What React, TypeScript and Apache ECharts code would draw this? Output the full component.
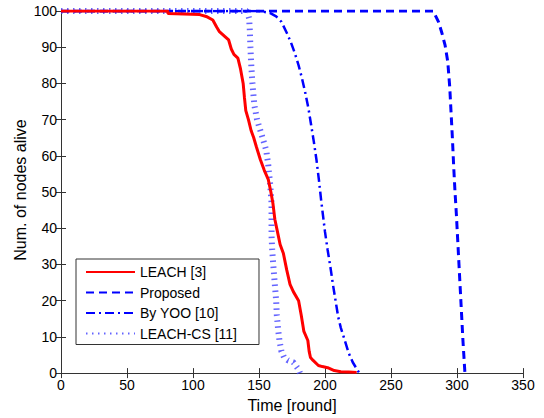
import React, { useEffect, useRef } from "react";
import * as echarts from "echarts";

const seriesNames = ["LEACH [3]", "Proposed", "By YOO [10]", "LEACH-CS [11]"];

const xTicks = [0, 50, 100, 150, 200, 250, 300, 350];

const leachData: number[][] = [
  [0, 100], [81, 100], [81, 99.3], [105, 99], [110, 98.5], [115, 97.5], [118, 95.5], [120, 94.3],
  [124, 93], [127, 92], [129, 89.5], [131, 88], [134, 87], [136, 84], [138, 80], [139, 76],
  [140, 72.5], [142, 70], [144, 67], [146, 65], [148, 62.5], [151, 59], [154, 56], [157, 53.5],
  [159, 50], [160.5, 47], [162, 42.5], [164, 39], [166, 35.5], [168.5, 33], [171, 28.5],
  [173.5, 24.5], [176, 22.5], [180, 20], [182, 16], [184, 11.5], [187, 9], [188, 6], [189, 4.3],
  [191, 3.5], [195, 2.1], [198, 1.8], [202, 1.5], [207, 0.7], [212, 0.4], [218, 0.3], [224, 0.2]
];

const proposedData: number[][] = [
  [0, 100], [282, 100], [286, 97], [288.5, 94], [291, 90.5], [293, 86], [294.5, 79],
  [295.5, 72], [296.5, 65], [297.5, 57], [298.5, 50], [299.5, 44], [300.5, 37], [301.5, 30],
  [302.5, 23], [303.5, 16], [304.5, 9], [305.5, 3], [306, 0]
];

const yooData: number[][] = [
  [0, 100], [150, 100], [158, 99.5], [163, 98.5], [167, 97], [171, 94], [174, 91.5],
  [177, 88.5], [180, 85], [182.5, 81.5], [185, 77.5], [187.5, 73], [189.5, 68.5],
  [191.5, 64], [193.5, 59], [195.5, 53], [197, 48], [198.5, 43.5], [200, 39], [202, 34],
  [204, 29.5], [206, 24.5], [208, 20], [210, 15.5], [212, 12.5], [215, 9], [218, 5.5],
  [221, 3], [224, 1.2], [226, 0]
];

const leachCsData: number[][] = [
  [0, 100], [141, 100], [142.5, 98], [143, 95], [143.5, 90], [144, 86], [145, 80],
  [146.5, 74], [148.5, 70], [151, 67], [153.5, 64], [155.5, 61.5], [157, 57.5], [158.5, 52],
  [159.5, 47], [159.5, 42], [159.5, 38], [160, 34], [161, 29], [162, 24.5], [163, 20],
  [163.5, 16], [164.5, 12], [165.5, 9], [167, 6], [169, 4.3], [172, 3.5], [176, 3],
  [178, 2], [180, 1], [181, 0]
];

const FONT = '"Liberation Sans", Arial, Helvetica, sans-serif';

export default function App() {
  const ref = useRef<HTMLDivElement>(null);
  useEffect(() => {
    if (!ref.current) return;
    const chart = echarts.init(ref.current, undefined, { renderer: "svg" });
    const axisLine = { show: true, lineStyle: { color: "#333", width: 1 } };
    const axisTick = { show: true, inside: true, length: 5, lineStyle: { color: "#333" } };
    chart.setOption({
      animation: false,
      backgroundColor: "#fff",
      textStyle: { fontFamily: FONT },
      grid: { left: 61, right: 21, top: 11, bottom: 42, containLabel: false },
      graphic: [
        {
          type: "text",
          x: 20,
          y: 190,
          rotation: Math.PI / 2,
          style: {
            text: "Num. of nodes alive",
            fontSize: 16,
            fontFamily: FONT,
            fill: "#000",
            align: "center",
            verticalAlign: "middle",
          },
        },
      ],
      legend: {
        orient: "vertical",
        left: 76,
        top: 259,
        data: seriesNames,
        itemWidth: 49,
        itemHeight: 14,
        itemGap: 6.5,
        padding: [6, 22, 4, 9],
        backgroundColor: "#fff",
        borderColor: "#333",
        borderWidth: 1,
        borderRadius: 0,
        itemStyle: { opacity: 0 },
        textStyle: { fontFamily: FONT, fontSize: 14, color: "#000" },
        selectedMode: false,
      },
      xAxis: [
        {
          type: "value",
          min: 0,
          max: 350,
          interval: 50,
          name: "Time [round]",
          nameLocation: "middle",
          nameGap: 22,
          nameTextStyle: { fontSize: 16, color: "#000", fontFamily: FONT },
          axisLine,
          axisTick,
          axisLabel: { color: "#000", fontSize: 14, margin: 5, fontFamily: FONT,
            formatter: (v: number) => (xTicks.includes(v) ? String(v) : "") },
          splitLine: { show: false },
        },
        {
          type: "value",
          position: "top",
          min: 0,
          max: 350,
          interval: 50,
          axisLine,
          axisTick,
          axisLabel: { show: false },
          splitLine: { show: false },
        },
      ],
      yAxis: [
        {
          type: "value",
          min: 0,
          max: 100,
          interval: 10,
          axisLine,
          axisTick,
          axisLabel: { color: "#000", fontSize: 14, margin: 4, fontFamily: FONT },
          splitLine: { show: false },
        },
        {
          type: "value",
          position: "right",
          min: 0,
          max: 100,
          interval: 10,
          axisLine,
          axisTick,
          axisLabel: { show: false },
          splitLine: { show: false },
        },
      ],
      series: [
        {
          name: seriesNames[0],
          type: "line",
          data: leachData,
          symbol: "none",
          z: 4,
          lineStyle: { color: "#ff0000", width: 3, type: "solid" },
          itemStyle: { color: "#ff0000" },
        },
        {
          name: seriesNames[1],
          type: "line",
          data: proposedData,
          symbol: "none",
          z: 3,
          lineStyle: { color: "#0000ff", width: 3, type: [8, 5] },
          itemStyle: { color: "#0000ff" },
        },
        {
          name: seriesNames[2],
          type: "line",
          data: yooData,
          symbol: "none",
          z: 3,
          lineStyle: { color: "#0000ff", width: 2.5, type: [9, 4, 2, 4] },
          itemStyle: { color: "#0000ff" },
        },
        {
          name: seriesNames[3],
          type: "line",
          data: leachCsData,
          symbol: "none",
          z: 2,
          lineStyle: { color: "#3c3cff", width: 6, type: [1.5, 4.5], opacity: 0.8 },
          itemStyle: { color: "#3c3cff" },
        },
      ],
    });
    return () => chart.dispose();
  }, []);
  return <div ref={ref} style={{ width: 544, height: 418, position: "absolute", left: 0, top: 0 }} />;
}
